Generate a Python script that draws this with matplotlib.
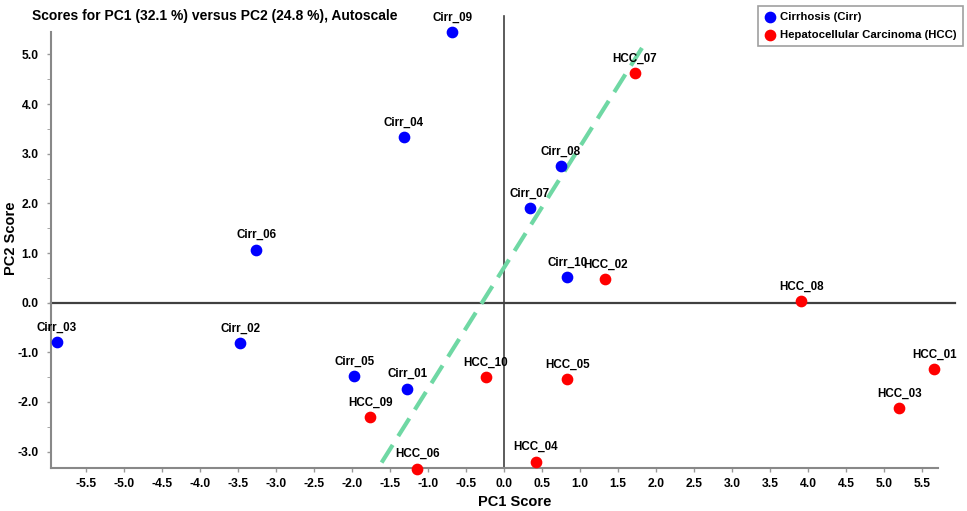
import matplotlib.pyplot as plt

# PCA scores
cirr_names = ['Cirr_01', 'Cirr_02', 'Cirr_03', 'Cirr_04', 'Cirr_05',
              'Cirr_06', 'Cirr_07', 'Cirr_08', 'Cirr_09', 'Cirr_10']
cirr_pc1 = [-1.27, -3.47, -5.88, -1.32, -1.97, -3.26, 0.34, 0.75, -0.68, 0.83]
cirr_pc2 = [-1.73, -0.82, -0.79, 3.34, -1.48, 1.07, 1.91, 2.75, 5.45, 0.51]

hcc_names = ['HCC_01', 'HCC_02', 'HCC_03', 'HCC_04', 'HCC_05',
             'HCC_06', 'HCC_07', 'HCC_08', 'HCC_09', 'HCC_10']
hcc_pc1 = [5.66, 1.33, 5.20, 0.42, 0.83, -1.14, 1.72, 3.91, -1.76, -0.24]
hcc_pc2 = [-1.33, 0.47, -2.13, -3.20, -1.54, -3.34, 4.62, 0.03, -2.31, -1.49]

# dashed separating line (two end points)
sep_x = [-1.61, 1.86]
sep_y = [-3.22, 5.24]

xticks = [i * 0.5 for i in range(-11, 12)]
yticks = [-3.0, -2.0, -1.0, 0.0, 1.0, 2.0, 3.0, 4.0, 5.0]

plt.rcParams['font.family'] = ['Liberation Sans', 'DejaVu Sans']
plt.rcParams['font.weight'] = 'bold'

fig = plt.figure(figsize=(9.67, 5.11), dpi=100)
ax = fig.add_axes([0.0527, 0.0841, 0.9173, 0.853])

ax.set_xlim(-5.96, 5.71)
ax.set_ylim(-3.33, 5.45)

# zero lines (they run a bit past the axes in the original)
ax.plot([-5.96, 5.93], [0, 0], color='#404040', lw=1.6, clip_on=False, zorder=1)
ax.plot([0, 0], [-3.33, 5.78], color='#404040', lw=1.2, clip_on=False, zorder=1)

ax.plot(sep_x, sep_y, color='#6fd8a4', lw=3, dashes=(5, 2.5), zorder=2)

ax.scatter(cirr_pc1, cirr_pc2, s=55, color='#0000ff', label='Cirrhosis (Cirr)', zorder=3, clip_on=False)
ax.scatter(hcc_pc1, hcc_pc2, s=55, color='#ff0000', label='Hepatocellular Carcinoma (HCC)', zorder=3, clip_on=False)

for nm, x, y in zip(cirr_names + hcc_names, cirr_pc1 + hcc_pc1, cirr_pc2 + hcc_pc2):
    ax.annotate(nm, (x, y), xytext=(0, 6), textcoords='offset points',
                ha='center', va='bottom', fontsize=8.4, fontweight='bold', annotation_clip=False)

for s in ['top', 'right']:
    ax.spines[s].set_visible(False)
for s in ['left', 'bottom']:
    ax.spines[s].set_color('#888888')
    ax.spines[s].set_linewidth(1.5)

ax.set_xticks(xticks, [f'{v:.1f}' for v in xticks])
ax.set_yticks(yticks, [f'{v:.1f}' for v in yticks])
ax.set_yticks([v + 0.5 for v in yticks[:-1]], minor=True)
ax.tick_params(axis='both', labelsize=8.7, color='#999999', length=3, width=1)
ax.tick_params(axis='x', pad=4)
ax.tick_params(axis='y', pad=6)
ax.tick_params(axis='y', which='minor', color='#999999', length=3)

ax.set_xlabel('PC1 Score', fontsize=10.5, fontweight='bold')
ax.set_ylabel('PC2 Score', fontsize=10.5, fontweight='bold')
ax.xaxis.set_label_coords(0.523, -0.062)
ax.yaxis.set_label_coords(-0.037, 0.527)

fig.text(32 / 967, 1 - 16 / 511, 'Scores for PC1 (32.1 %) versus PC2 (24.8 %), Autoscale',
         fontsize=10, fontweight='bold', va='center', ha='left')

leg = ax.legend(loc='upper right', bbox_to_anchor=(963 / 967, 1 - 6 / 511),
                bbox_transform=fig.transFigure, fancybox=False, edgecolor='#888888',
                fontsize=8.2, handletextpad=0.4, borderaxespad=0, labelspacing=0.7,
                handlelength=1.0, scatterpoints=1, borderpad=0.55)
leg.get_frame().set_linewidth(1.2)

fig.savefig('out.png', dpi=100)
